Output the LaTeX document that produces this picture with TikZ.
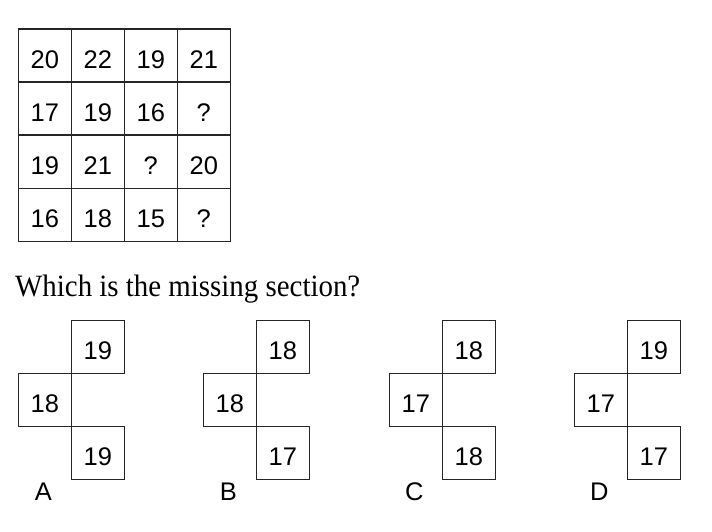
\documentclass[tikz,border=0pt]{standalone}
\usepackage{fontspec}
\newfontfamily\digitfont{Liberation Sans}
\newfontfamily\headfont{Liberation Serif}
\begin{document}
\begin{tikzpicture}[x=1pt,y=-1pt,
  cell/.style={draw=black!85, line width=1.4pt, minimum width=53pt, minimum height=53pt,
    inner sep=0pt, text height=25.5pt, text depth=0pt,
    font=\digitfont\fontsize{25.5}{28}\selectfont},
  optlabel/.style={font=\digitfont\fontsize{25.5}{28}\selectfont, anchor=base, inner sep=0pt}]
\useasboundingbox (0,0) rectangle (712,532);
% main grid
\foreach \r/\a/\b/\c/\d in {1/20/22/19/21, 2/17/19/16/?, 3/19/21/?/20, 4/16/18/15/?}{
  \node[cell] (g\r-1) at ({18.3+26.5},{29.2+53*(\r-1)+26.5}) {\a};
  \node[cell] (g\r-2) at ({18.3+53+26.5},{29.2+53*(\r-1)+26.5}) {\b};
  \node[cell] (g\r-3) at ({18.3+106+26.5},{29.2+53*(\r-1)+26.5}) {\c};
  \node[cell] (g\r-4) at ({18.3+159+26.5},{29.2+53*(\r-1)+26.5}) {\d};
}
% question
\node[anchor=base west, inner sep=0pt] (question) at (15,296.7)
  {\resizebox{345pt}{21.5pt}{\headfont Which is the missing section?}};
% options
\foreach \n/\x/\t/\l/\b in {A/18.3/19/18/19, B/203.3/18/18/17, C/389.3/18/17/18, D/574.3/19/17/17}{
  \node[cell] (o\n-top) at ({\x+53+26.5},{320.5+26.5}) {\t};
  \node[cell] (o\n-left) at ({\x+26.5},{373.5+26.5}) {\l};
  \node[cell] (o\n-bot) at ({\x+53+26.5},{426.5+26.5}) {\b};
  \node[optlabel] (o\n-label) at ({\x+25},500) {\n};
}
\end{tikzpicture}
\end{document}
